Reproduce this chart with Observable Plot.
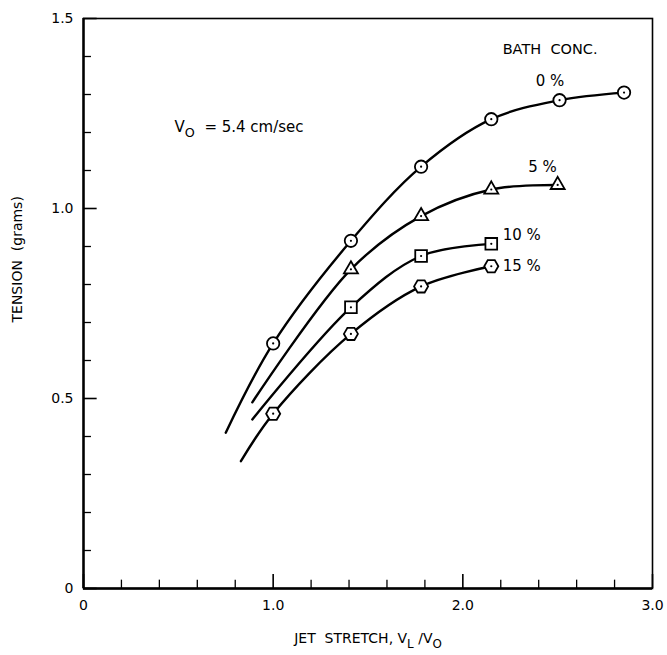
<!DOCTYPE html>
<html><head><meta charset="utf-8">
<script src="https://cdn.jsdelivr.net/npm/d3@7"></script>
<script src="https://cdn.jsdelivr.net/npm/@observablehq/plot@0.6"></script>
<style>body{margin:0;background:#fff}</style>
</head><body><div id="chart"></div>
<script>
// ---- data ----
const seriesNames = ["0 %", "5 %", "10 %", "15 %"];
const stretch0 = [1.0, 1.41, 1.78, 2.15, 2.51, 2.85];
const tension0 = [0.645, 0.915, 1.11, 1.235, 1.285, 1.305];
const stretch5 = [1.41, 1.78, 2.15, 2.50];
const tension5 = [0.84, 0.98, 1.05, 1.062];
const stretch10 = [1.41, 1.78, 2.15];
const tension10 = [0.74, 0.875, 0.907];
const stretch15 = [1.0, 1.41, 1.78, 2.15];
const tension15 = [0.46, 0.67, 0.795, 0.848];
// where each drawn curve begins (curve only, no marker)
const curveStartX = [0.75, 0.89, 0.89, 0.83];
const curveStartY = [0.41, 0.49, 0.445, 0.335];

const xMajorTicks = [0, 1, 2, 3];
const xTickLabels = ["0", "1.0", "2.0", "3.0"];
const xMinorTicks = [0.2,0.4,0.6,0.8,1.2,1.4,1.6,1.8,2.2,2.4,2.6,2.8];
const yMajorTicks = [0, 0.5, 1.0, 1.5];
const yTickLabels = ["0", "0.5", "1.0", "1.5"];
const yMinorTicks = [0.1,0.2,0.3,0.4,0.6,0.7,0.8,0.9,1.1,1.2,1.3,1.4];

const xTitle = "JET  STRETCH, V_L /V_O";
const yTitle = "TENSION  (grams)";
const legendTitle = "BATH  CONC.";
const noteText = "V_O  = 5.4 cm/sec";

// ---- build tables ----
const sx = [stretch0, stretch5, stretch10, stretch15];
const sy = [tension0, tension5, tension10, tension15];
const points = [];
const curves = [];
seriesNames.forEach((s, k) => {
  curves.push({series: s, x: curveStartX[k], y: curveStartY[k]});
  sx[k].forEach((x, i) => {
    points.push({series: s, x, y: sy[k][i]});
    curves.push({series: s, x, y: sy[k][i]});
  });
});

const hexagon = {
  draw(context, size) {
    const r = Math.sqrt(size / (1.5 * Math.sqrt(3)));
    for (let i = 0; i < 6; ++i) {
      const a = i * Math.PI / 3;
      const px = r * Math.cos(a), py = r * Math.sin(a);
      if (i === 0) context.moveTo(px, py); else context.lineTo(px, py);
    }
    context.closePath();
  }
};
const symbolOf = {"0 %": "circle", "5 %": "triangle", "10 %": "square", "15 %": hexagon};
const rOf = {"0 %": 6.2, "5 %": 5.2, "10 %": 6.6, "15 %": 6.4};

// label placement (annotation positions, in data units)
const seriesLabelX = [2.46, 2.42, 2.21, 2.21];
const seriesLabelY = [1.335, 1.11, 0.93, 0.848];
const seriesLabelAnchor = ["middle", "middle", "start", "start"];

const font = "DejaVu Sans, Liberation Sans, sans-serif";
const W = 667, H = 655;

const marks = [
  Plot.frame({stroke: "black", strokeWidth: 1.6}),
  Plot.ruleX([0], {stroke: "black", strokeWidth: 2.4}),
  Plot.ruleY([0], {stroke: "black", strokeWidth: 2.4}),
  Plot.ruleX(xMinorTicks, {x: d => d, y1: 0, y2: 0.022, stroke: "black", strokeWidth: 1.3}),
  Plot.ruleX(xMajorTicks, {x: d => d, y1: 0, y2: 0.037, stroke: "black", strokeWidth: 1.6}),
  Plot.ruleY(yMinorTicks, {y: d => d, x1: 0, x2: 0.042, stroke: "black", strokeWidth: 1.3}),
  Plot.ruleY(yMajorTicks, {y: d => d, x1: 0, x2: 0.072, stroke: "black", strokeWidth: 1.6}),
  Plot.axisX({ticks: xMajorTicks, tickFormat: (d, i) => xTickLabels[i], tickSize: 0, tickPadding: 12, fontSize: 14, label: null}),
  Plot.axisY({ticks: yMajorTicks, tickFormat: (d, i) => yTickLabels[i], tickSize: 0, tickPadding: 10, fontSize: 14, label: null}),
  Plot.line(curves, {x: "x", y: "y", z: "series", curve: "catmull-rom", stroke: "black", strokeWidth: 2.4}),
  ...seriesNames.map(s => Plot.dot(points.filter(d => d.series === s), {
    x: "x", y: "y", symbol: () => symbolOf[s], r: rOf[s], fill: "white", stroke: "black", strokeWidth: 1.8
  })),
  Plot.dot(points, {x: "x", y: "y", r: 1.1, fill: "black"}),
  ...seriesNames.map((s, i) => Plot.text([s], {x: seriesLabelX[i], y: seriesLabelY[i], text: d => d,
    textAnchor: seriesLabelAnchor[i], fontSize: 15, fill: "black"})),
  Plot.text([legendTitle], {x: 2.21, y: 1.42, text: d => d, textAnchor: "start", fontSize: 14.5, fill: "black"}),
  Plot.text([noteText], {x: 0.48, y: 1.215, text: d => d, textAnchor: "start", fontSize: 15, fill: "black"}),
  Plot.text([xTitle], {frameAnchor: "bottom", dy: 54, text: d => d, fontSize: 14, fill: "black"}),
  Plot.text([yTitle], {y: 0.7, frameAnchor: "left", dx: -66, rotate: -90, text: d => d, fontSize: 14, fill: "black"})
];

const chart = Plot.plot({
  width: W, height: H,
  marginLeft: 83, marginRight: 15, marginTop: 18, marginBottom: 67,
  style: {fontFamily: font, color: "black", background: "white", overflow: "visible"},
  x: {domain: [0, 3]},
  y: {domain: [0, 1.5]},
  marks
});

// subscripts: "_X" -> subscript tspan
d3.select(chart).selectAll("text").each(function() {
  const t = this.textContent;
  if (!t.includes("_")) return;
  const parts = t.split(/(_\w)/).filter(p => p);
  const sel = d3.select(this);
  sel.text(null);
  let shifted = false;
  parts.forEach(p => {
    if (p.startsWith("_")) {
      sel.append("tspan").attr("dy", shifted ? 0 : 5).attr("font-size", "0.85em").text(p.slice(1));
      shifted = true;
    } else {
      sel.append("tspan").attr("dy", shifted ? -5 : 0).text(p);
      shifted = false;
    }
  });
});

document.getElementById("chart").appendChild(chart);
</script>
</body></html>
